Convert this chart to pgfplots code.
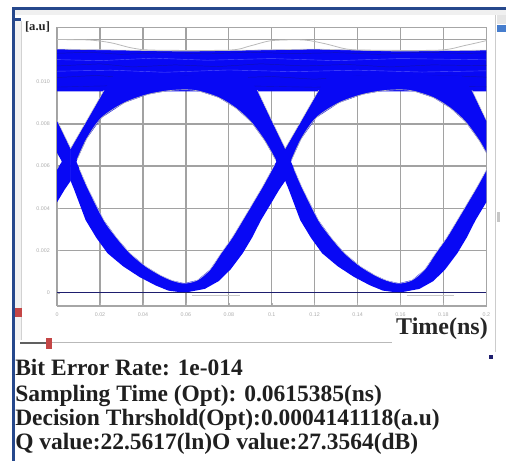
\documentclass[border=0pt]{standalone}
\usepackage{pgfplots}
\pgfplotsset{compat=1.18}
\usepackage{fontspec}
\setmainfont{Liberation Serif}
\newfontfamily\tickfont{Liberation Sans}
\definecolor{eyeblue}{RGB}{8,8,245}
\definecolor{navy}{RGB}{30,30,110}
\definecolor{streak}{RGB}{20,20,150}
\definecolor{winblue}{RGB}{38,72,140}
\definecolor{knob}{RGB}{196,70,70}
\definecolor{sbblue}{RGB}{70,125,205}
\definecolor{gridc}{RGB}{162,162,162}
\begin{document}
\begin{tikzpicture}
\begin{scope}[x=0.75pt,y=-0.75pt]
 \fill[gray!12] (15,10) rectangle (506,15);
 \fill[winblue] (12,7) rectangle (506,10);
 \fill[winblue] (12,7) rectangle (15,461);
 \fill[winblue] (15,17.5) rectangle (21,20.5);
 \fill[gray!10] (15,21) rectangle (21,340);
 \draw[gray!35, line width=0.5pt] (21,21) -- (21,340);
 \fill[knob] (15,308) rectangle (22,317);
 \draw[gray!55, line width=0.75pt] (20,342.5) -- (392,342.5);
 \draw[gray!75!black, line width=1.5pt] (20,342.5) -- (47,342.5);
 \fill[knob] (46,338) rectangle (52,349);
 \draw[gray!40, line width=0.75pt] (495,15) -- (495,352);
 \fill[gray!20] (497,15) rectangle (506,24);
 \fill[sbblue] (497,25) rectangle (506,32);
 \fill[gray!45] (497,212) rectangle (500,222);
 \fill[navy] (489,355) rectangle (493,359);
\end{scope}
\begin{axis}[
  at={(42.825pt,-229.5pt)}, anchor=south west,
  width=321.9pt, height=209pt, scale only axis,
  xmin=0, xmax=0.2, ymin=-0.63, ymax=12.58,
  xtick={0,0.02,0.04,0.06,0.08,0.1,0.12,0.14,0.16,0.18,0.2},
  xticklabels={0,0.02,0.04,0.06,0.08,0.1,0.12,0.14,0.16,0.18,0.2},
  ytick={0,2,4,6,8,10,12},
  yticklabels={0,0.002,0.004,0.006,0.008,0.010,{}},
  xmajorgrids=true, ymajorgrids=true,
  major grid style={draw=gridc, line width=1pt},
  axis line style={draw=gray!70, line width=0.9pt},
  tick align=inside, tick pos=left, major tick length=2pt, tick style={gray!60},
  ticklabel style={font=\tickfont\fontsize{4}{4}\selectfont, text=gray!65},
  xticklabel shift=1.2pt, yticklabel shift=2pt,
]
% top band (level 1)
\addplot[fill=eyeblue, draw=none] coordinates {(0,9.55)(0.2,9.55)(0.2,11.5)(0.16,11.45)(0.12,11.55)(0.09,11.5)(0.06,11.45)(0.03,11.5)(0,11.55)};
\addplot[streak, line width=0.35pt, opacity=0.7] coordinates {(0,11.35)(0.015,11.4)(0.03,11.3)(0.05,11.38)(0.07,11.32)(0.09,11.4)(0.11,11.33)(0.13,11.38)(0.15,11.3)(0.17,11.4)(0.19,11.34)(0.2,11.37)};
\addplot[streak, line width=0.35pt, opacity=0.7] coordinates {(0,10.75)(0.02,10.85)(0.035,10.7)(0.055,10.8)(0.075,10.72)(0.095,10.85)(0.115,10.75)(0.135,10.82)(0.155,10.7)(0.175,10.8)(0.2,10.76)};
\addplot[streak, line width=0.35pt, opacity=0.7] coordinates {(0,10.2)(0.018,10.3)(0.04,10.15)(0.06,10.28)(0.08,10.18)(0.1,10.25)(0.12,10.12)(0.14,10.28)(0.16,10.2)(0.18,10.3)(0.2,10.22)};
\addplot[streak, line width=0.3pt, opacity=0.6] coordinates {(0,9.75)(0.03,9.82)(0.06,9.72)(0.09,9.8)(0.12,9.74)(0.15,9.82)(0.2,9.76)};
\addplot[blue!45!white, line width=0.3pt, opacity=0.6] coordinates {(0,11.05)(0.02,11.0)(0.045,11.12)(0.07,11.02)(0.1,11.1)(0.13,11.0)(0.16,11.1)(0.2,11.04)};
\addplot[blue!45!white, line width=0.3pt, opacity=0.6] coordinates {(0,10.5)(0.025,10.55)(0.05,10.45)(0.08,10.56)(0.11,10.48)(0.14,10.55)(0.17,10.46)(0.2,10.52)};
% upper arcs (rising and falling arms above the crossings)
\addplot[fill=eyeblue, draw=none] coordinates {(-0.0937,6.84)(-0.0859,8.2)(-0.0781,9.6)(-0.0737,10.3)(-0.0117,10.3)(-0.0067,9.6)(-0.0002,8.2)(0.0063,6.84)(0.0063,5.3)(0.0018,6.3)(-0.0032,7.2)(-0.0097,8.1)(-0.0167,8.75)(-0.0247,9.25)(-0.0337,9.55)(-0.0397,9.62)(-0.0477,9.58)(-0.0577,9.4)(-0.0687,9.0)(-0.0792,8.3)(-0.0862,7.3)(-0.0907,6.3)(-0.0937,5.3)};
\addplot[fill=eyeblue, draw=none] coordinates {(0.0063,6.84)(0.0141,8.2)(0.0219,9.6)(0.0263,10.3)(0.0883,10.3)(0.0933,9.6)(0.0998,8.2)(0.1063,6.84)(0.1063,5.3)(0.1018,6.3)(0.0968,7.2)(0.0903,8.1)(0.0833,8.75)(0.0753,9.25)(0.0663,9.55)(0.0603,9.62)(0.0523,9.58)(0.0423,9.4)(0.0313,9.0)(0.0208,8.3)(0.0138,7.3)(0.0093,6.3)(0.0063,5.3)};
\addplot[fill=eyeblue, draw=none] coordinates {(0.1063,6.84)(0.1141,8.2)(0.1219,9.6)(0.1263,10.3)(0.1883,10.3)(0.1933,9.6)(0.1998,8.2)(0.2063,6.84)(0.2063,5.3)(0.2018,6.3)(0.1968,7.2)(0.1903,8.1)(0.1833,8.75)(0.1753,9.25)(0.1663,9.55)(0.1603,9.62)(0.1523,9.58)(0.1423,9.4)(0.1313,9.0)(0.1208,8.3)(0.1138,7.3)(0.1093,6.3)(0.1063,5.3)};
% lower U shapes (arms down to the zero level)
\addplot[fill=eyeblue, draw=none] coordinates {(-0.0937,6.84)(-0.0897,5.9)(-0.0859,5.0)(-0.0782,3.44)(-0.0722,2.6)(-0.0660,1.87)(-0.0587,1.25)(-0.0517,0.82)(-0.0464,0.58)(-0.0407,0.45)(-0.0346,0.6)(-0.0287,1.1)(-0.0236,1.87)(-0.0185,2.6)(-0.0135,3.44)(-0.0044,5.0)(0.0015,6.1)(0.0063,6.84)(0.0063,5.3)(0.0036,4.9)(-0.0050,3.44)(-0.0092,2.6)(-0.0135,1.87)(-0.0192,1.1)(-0.0247,0.55)(-0.0312,0.18)(-0.0407,0.0)(-0.0482,0.1)(-0.0542,0.35)(-0.0617,0.75)(-0.0692,1.25)(-0.0765,1.87)(-0.0817,2.6)(-0.0867,3.44)(-0.0921,4.9)(-0.0937,5.3)};
\addplot[fill=eyeblue, draw=none] coordinates {(0.0063,6.84)(0.0103,5.9)(0.0141,5.0)(0.0218,3.44)(0.0278,2.6)(0.0340,1.87)(0.0413,1.25)(0.0483,0.82)(0.0536,0.58)(0.0593,0.45)(0.0654,0.6)(0.0713,1.1)(0.0764,1.87)(0.0815,2.6)(0.0865,3.44)(0.0956,5.0)(0.1015,6.1)(0.1063,6.84)(0.1063,5.3)(0.1036,4.9)(0.0950,3.44)(0.0908,2.6)(0.0865,1.87)(0.0808,1.1)(0.0753,0.55)(0.0688,0.18)(0.0593,0.0)(0.0518,0.1)(0.0458,0.35)(0.0383,0.75)(0.0308,1.25)(0.0235,1.87)(0.0183,2.6)(0.0133,3.44)(0.0079,4.9)(0.0063,5.3)};
\addplot[fill=eyeblue, draw=none] coordinates {(0.1063,6.84)(0.1103,5.9)(0.1141,5.0)(0.1218,3.44)(0.1278,2.6)(0.1340,1.87)(0.1413,1.25)(0.1483,0.82)(0.1536,0.58)(0.1593,0.45)(0.1654,0.6)(0.1713,1.1)(0.1764,1.87)(0.1815,2.6)(0.1865,3.44)(0.1956,5.0)(0.2015,6.1)(0.2063,6.84)(0.2063,5.3)(0.2036,4.9)(0.1950,3.44)(0.1908,2.6)(0.1865,1.87)(0.1808,1.1)(0.1753,0.55)(0.1688,0.18)(0.1593,0.0)(0.1518,0.1)(0.1458,0.35)(0.1383,0.75)(0.1308,1.25)(0.1235,1.87)(0.1183,2.6)(0.1133,3.44)(0.1079,4.9)(0.1063,5.3)};
% gray outlier traces along the eye edges
\addplot[gray!55, line width=0.5pt, smooth] coordinates {(0.1018,6.3)(0.0968,7.2)(0.0903,8.1)(0.0833,8.75)(0.0753,9.25)(0.0663,9.55)(0.0603,9.62)(0.0523,9.58)(0.0423,9.4)(0.0313,9.0)(0.0208,8.3)(0.0138,7.3)(0.0093,6.3)};
\addplot[gray!55, line width=0.5pt, smooth] coordinates {(0.2018,6.3)(0.1968,7.2)(0.1903,8.1)(0.1833,8.75)(0.1753,9.25)(0.1663,9.55)(0.1603,9.62)(0.1523,9.58)(0.1423,9.4)(0.1313,9.0)(0.1208,8.3)(0.1138,7.3)(0.1093,6.3)};
\addplot[gray!45, line width=0.4pt] coordinates {(-0.0067,9.6)(0.0063,6.84)(0.0219,9.6)};
\addplot[gray!45, line width=0.4pt] coordinates {(0.0933,9.6)(0.1063,6.84)(0.1219,9.6)};
\addplot[gray!45, line width=0.4pt] coordinates {(0.1933,9.6)(0.2063,6.84)};
\addplot[gray!35, line width=0.4pt, smooth] coordinates {(0.0103,5.9)(0.0141,5.0)(0.0218,3.44)(0.0278,2.6)(0.0340,1.87)(0.0413,1.25)(0.0483,0.82)(0.0536,0.58)(0.0593,0.45)(0.0654,0.6)(0.0713,1.1)(0.0764,1.87)(0.0815,2.6)(0.0865,3.44)(0.0956,5.0)(0.1015,6.1)};
\addplot[gray!35, line width=0.4pt, smooth] coordinates {(0.1103,5.9)(0.1141,5.0)(0.1218,3.44)(0.1278,2.6)(0.1340,1.87)(0.1413,1.25)(0.1483,0.82)(0.1536,0.58)(0.1593,0.45)(0.1654,0.6)(0.1713,1.1)(0.1764,1.87)(0.1815,2.6)(0.1865,3.44)(0.1956,5.0)(0.2015,6.1)};
\addplot[gray!45, line width=0.45pt] coordinates {(0,11.55)(0.03,11.5)(0.06,11.45)(0.09,11.5)(0.12,11.55)(0.16,11.45)(0.2,11.5)};
\addplot[gray!55, line width=0.6pt, smooth] coordinates {(0,12.0)(0.015,11.98)(0.025,11.85)(0.035,11.6)(0.045,11.5)(0.08,11.5)(0.09,11.7)(0.1,11.95)(0.115,11.98)(0.125,11.8)(0.135,11.55)(0.145,11.5)(0.178,11.5)(0.19,11.72)(0.2,11.95)};
% zero level
\addplot[gray!45, line width=0.5pt] coordinates {(0.063,-0.14)(0.085,-0.14)};
\addplot[gray!45, line width=0.5pt] coordinates {(0.163,-0.14)(0.185,-0.14)};
\addplot[navy, line width=1.1pt] coordinates {(0,0)(0.2,0)};
\end{axis}
\begin{scope}[x=0.75pt,y=-0.75pt]
 \node[font=\bfseries\fontsize{9.5}{9.5}\selectfont, text=black!85] at (37.5,27) {[a.u]};
 \node[anchor=base east, inner sep=0pt, font=\bfseries\fontsize{18}{18}\selectfont, text=black!85] at (488,334) {Time(ns)};
 \node[anchor=base west, inner sep=0pt, font=\bfseries\fontsize{17.6}{18}\selectfont, text=black!88] at (15,375.7) {Bit Error Rate: 1e-014};
 \node[anchor=base west, inner sep=0pt, font=\bfseries\fontsize{17.6}{18}\selectfont, text=black!88] at (15,401) {Sampling Time (Opt): 0.0615385(ns)};
 \node[anchor=base west, inner sep=0pt, font=\bfseries\fontsize{17.6}{18}\selectfont, text=black!88] at (15,425.3) {Decision Thrshold(Opt):0.0004141118(a.u)};
 \node[anchor=base west, inner sep=0pt, font=\bfseries\fontsize{17.6}{18}\selectfont, text=black!88] at (15,449.5) {Q value:22.5617(ln)O value:27.3564(dB)};
 \pgfresetboundingbox
 \path[use as bounding box] (0,0) rectangle (506,461);
\end{scope}
\end{tikzpicture}
\end{document}
